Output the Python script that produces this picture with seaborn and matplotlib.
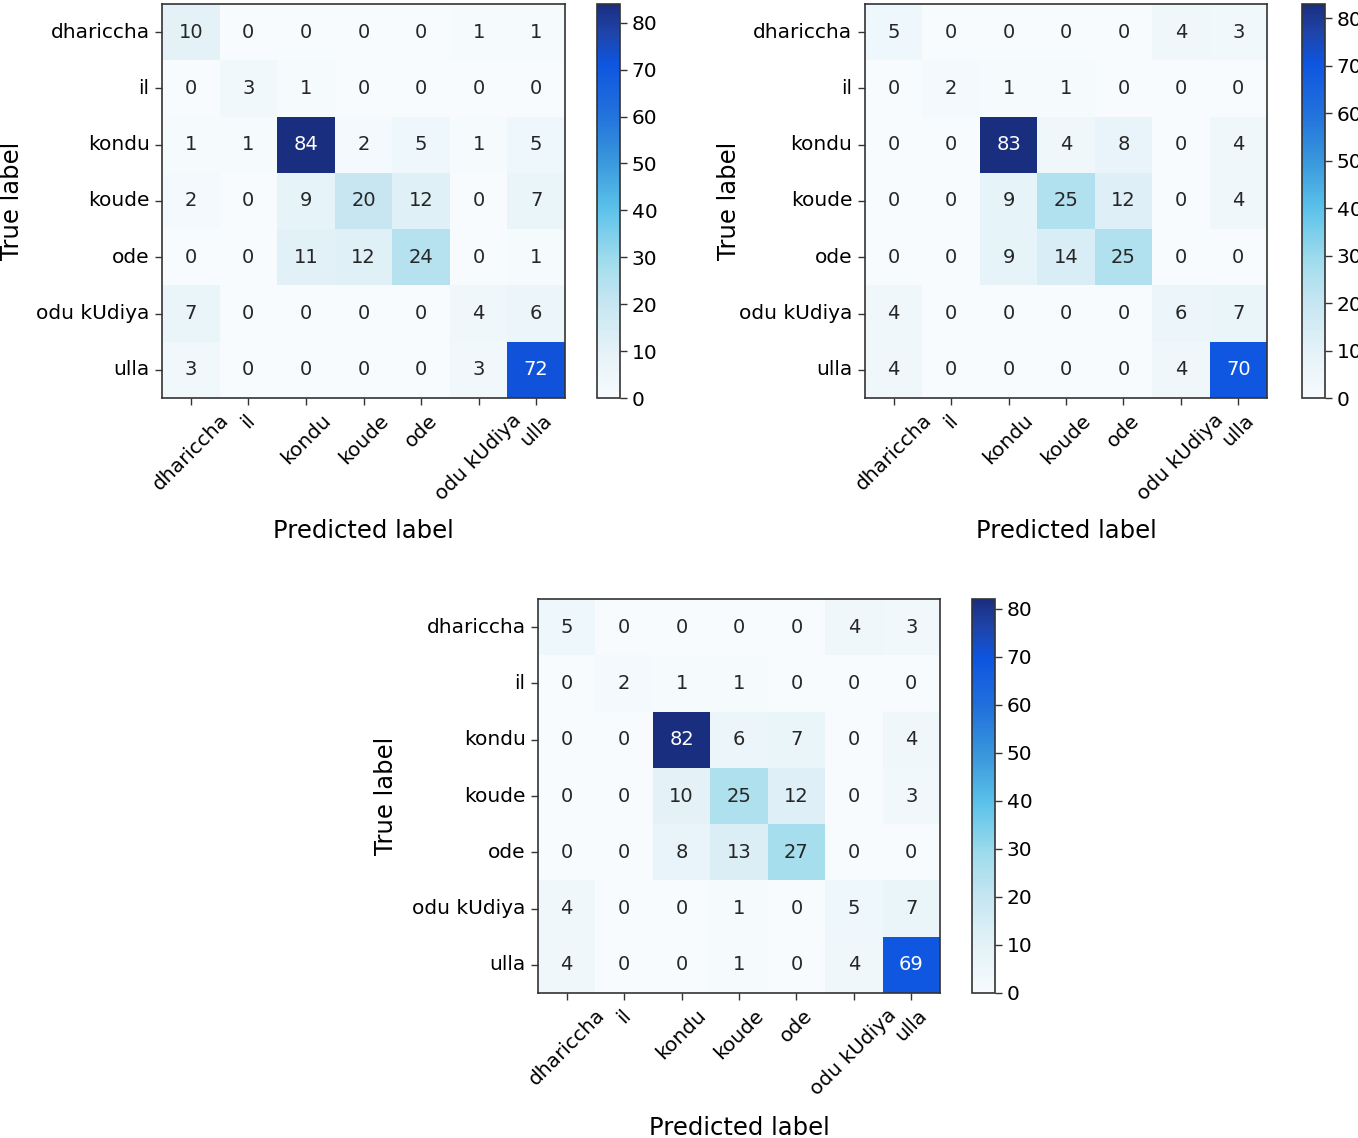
import numpy as np
import pandas as pd
import matplotlib
matplotlib.use("Agg")
import matplotlib.pyplot as plt
from matplotlib.colors import LinearSegmentedColormap
import seaborn as sns

labels = ["dhariccha", "il", "kondu", "koude", "ode", "odu kUdiya", "ulla"]

cm_a = [
    [10, 0, 0, 0, 0, 1, 1],
    [0, 3, 1, 0, 0, 0, 0],
    [1, 1, 84, 2, 5, 1, 5],
    [2, 0, 9, 20, 12, 0, 7],
    [0, 0, 11, 12, 24, 0, 1],
    [7, 0, 0, 0, 0, 4, 6],
    [3, 0, 0, 0, 0, 3, 72],
]
cm_b = [
    [5, 0, 0, 0, 0, 4, 3],
    [0, 2, 1, 1, 0, 0, 0],
    [0, 0, 83, 4, 8, 0, 4],
    [0, 0, 9, 25, 12, 0, 4],
    [0, 0, 9, 14, 25, 0, 0],
    [4, 0, 0, 0, 0, 6, 7],
    [4, 0, 0, 0, 0, 4, 70],
]
cm_c = [
    [5, 0, 0, 0, 0, 4, 3],
    [0, 2, 1, 1, 0, 0, 0],
    [0, 0, 82, 6, 7, 0, 4],
    [0, 0, 10, 25, 12, 0, 3],
    [0, 0, 8, 13, 27, 0, 0],
    [4, 0, 0, 1, 0, 5, 7],
    [4, 0, 0, 1, 0, 4, 69],
]

cmap = LinearSegmentedColormap.from_list("blues_cyan", [
    (0.00, "#f7fbfd"),
    (0.12, "#e4f2f8"),
    (0.25, "#c3e5f1"),
    (0.35, "#a0dcec"),
    (0.48, "#5cc2ea"),
    (0.60, "#3a98dc"),
    (0.72, "#2272dc"),
    (0.85, "#0e55e0"),
    (0.93, "#1f44a8"),
    (1.00, "#1a2e80"),
])

W, H = 1358, 1138
fig = plt.figure(figsize=(W / 100, H / 100), dpi=100)


def rect(x0, y0, x1, y1):
    return [x0 / W, 1 - y1 / H, (x1 - x0) / W, (y1 - y0) / H]


# (matrix, axes rect, colorbar rect, ylabel right-edge px, xlabel top px)
panels = [
    (cm_a, (162, 4, 565, 398), rect(597, 4, 620, 398), 24, 519),
    (cm_b, (865, 4, 1267, 398), rect(1302, 4, 1325, 398), 741, 519),
    (cm_c, (538, 599, 940, 993), rect(972, 599, 995, 993), 398, 1116),
]

edge = "#333333"
for cm, (x0, y0, x1, y1), cbr, ylx, xly in panels:
    df = pd.DataFrame(np.array(cm), index=labels, columns=labels)
    ax = fig.add_axes(rect(x0, y0, x1, y1))
    cax = fig.add_axes(cbr)
    sns.heatmap(df, ax=ax, cbar_ax=cax, cmap=cmap, vmin=0, vmax=df.values.max(),
                annot=True, fmt="d", annot_kws={"fontsize": 14}, square=False)
    for s in ax.spines.values():
        s.set_visible(True)
        s.set_color(edge)
        s.set_linewidth(1.2)
    ax.tick_params(axis="both", length=5, width=1, color=edge, labelsize=14.5, pad=4)
    ax.set_yticklabels(labels, rotation=0)
    ax.set_xticklabels(labels, rotation=45, ha="center")
    ax.set_xlabel("Predicted label", fontsize=17.5)
    ax.set_ylabel("True label", fontsize=17.5)
    ax.yaxis.set_label_coords((ylx - x0) / (x1 - x0), 0.5)
    ax.xaxis.set_label_coords(0.5, (y1 - xly) / (y1 - y0))
    cb = ax.collections[0].colorbar
    cb.outline.set_visible(True)
    cb.outline.set_linewidth(1.2)
    cb.outline.set_edgecolor(edge)
    cb.set_ticks(list(range(0, 81, 10)))
    cax.tick_params(labelsize=14.5, length=5, width=1, color=edge)

fig.savefig("out.png", dpi=100)
